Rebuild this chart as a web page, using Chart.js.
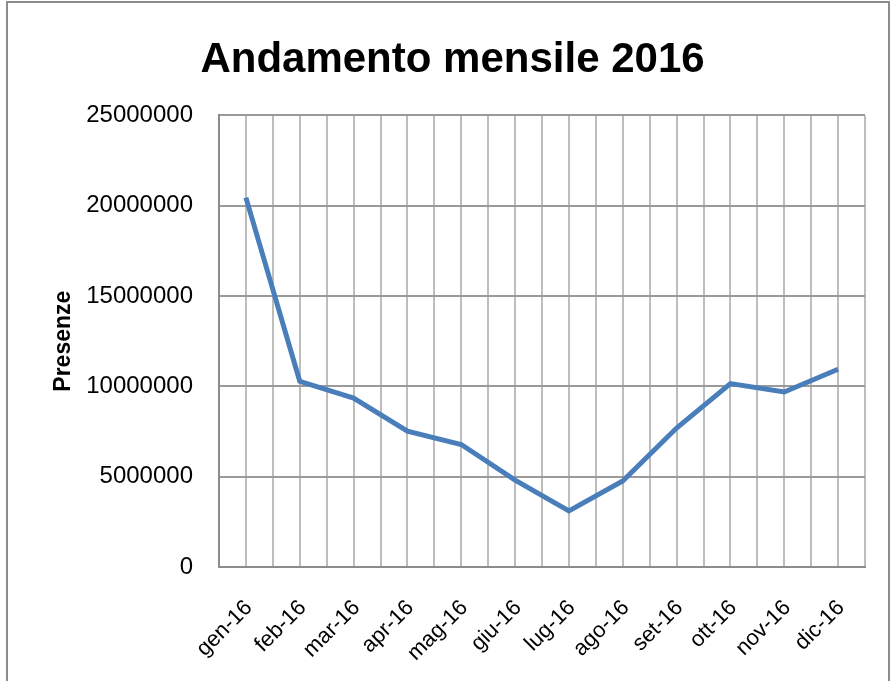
<!DOCTYPE html>
<html>
<head>
<meta charset="utf-8">
<script src="https://cdn.jsdelivr.net/npm/chart.js@4"></script>
<style>
  html, body { margin: 0; padding: 0; background: #fff; }
  #wrap { position: relative; width: 895px; height: 681px; overflow: hidden; }
  #frame {
    position: absolute; left: 6px; top: 1px; width: 884px; height: 720px;
    border: 2px solid #8c8c8c; box-sizing: border-box;
  }
  #box { position: absolute; left: 0; top: 0; width: 895px; height: 681px; }
</style>
</head>
<body>
<div id="wrap">
  <div id="frame"></div>
  <div id="box"><canvas id="chart"></canvas></div>
</div>
<script>
const months = ["gen-16", "feb-16", "mar-16", "apr-16", "mag-16", "giu-16",
                "lug-16", "ago-16", "set-16", "ott-16", "nov-16", "dic-16"];
const presenze = [20450000, 10280000, 9350000, 7520000, 6780000, 4810000,
                  3100000, 4760000, 7690000, 10150000, 9690000, 10950000];
const yTicks = [0, 5000000, 10000000, 15000000, 20000000, 25000000];

const FONT = "'Liberation Sans', Arial, sans-serif";

new Chart(document.getElementById("chart"), {
  type: "line",
  data: {
    labels: months,
    datasets: [
      {
        label: "Presenze",
        data: presenze,
        borderColor: "#4a7ebb",
        borderWidth: 5,
        pointRadius: 0,
        tension: 0,
        fill: false,
      },
    ],
  },
  options: {
    responsive: true,
    maintainAspectRatio: false,
    animation: false,
    layout: { padding: { left: 40, right: 30, top: 0, bottom: 0 } },
    plugins: {
      legend: { display: false },
      tooltip: { enabled: false },
      title: {
        display: true,
        text: "Andamento mensile 2016",
        color: "#000",
        font: { family: FONT, size: 42, weight: "bold" },
        padding: { top: 35, bottom: 30 },
      },
    },
    scales: {
      x: {
        offset: true,
        afterFit: (scale) => { scale.height = 114; },
        grid: { color: "#bdbdbd", lineWidth: 2, offset: false, drawTicks: false },
        border: { color: "#8c8c8c", width: 2 },
        ticks: {
          color: "#000",
          font: { family: FONT, size: 22 },
          minRotation: 45,
          maxRotation: 45,
          padding: 28,
          labelOffset: 3,
        },
      },
      x2: {
        type: "category",
        labels: months,
        position: "bottom",
        offset: true,
        grid: { color: "#bdbdbd", lineWidth: 2, offset: true, drawTicks: false },
        border: { display: false },
        ticks: { display: false },
      },
      y: {
        min: 0,
        max: 25000000,
        afterBuildTicks: (scale) => {
          scale.ticks = yTicks.map((v) => ({ value: v }));
        },
        afterFit: (scale) => { scale.width = 179; },
        grid: { color: "#9a9a9a", lineWidth: 2, drawTicks: false },
        border: { color: "#8c8c8c", width: 2 },
        ticks: {
          color: "#000",
          font: { family: FONT, size: 24 },
          padding: 26,
          callback: (v) => String(v),
        },
        title: {
          display: true,
          text: "Presenze",
          color: "#000",
          font: { family: FONT, size: 23, weight: "bold" },
          padding: { top: 10, bottom: 0 },
        },
      },
    },
  },
});
</script>
</body>
</html>
